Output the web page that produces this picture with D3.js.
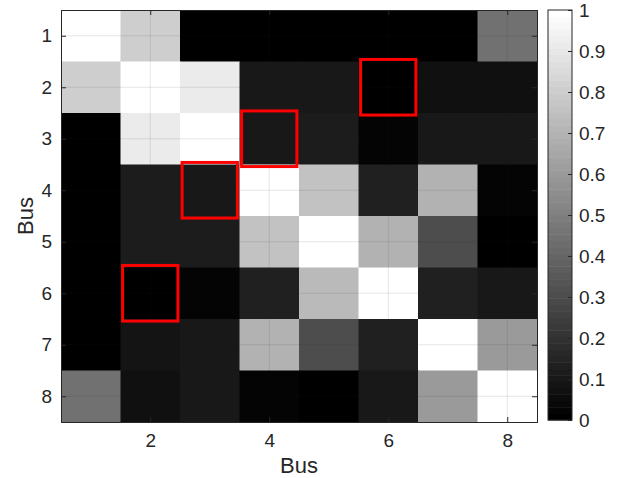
<!DOCTYPE html>
<html lang="en">
<head>
  <meta charset="UTF-8">
  <title>Bus correlation map</title>
  <script src="https://d3js.org/d3.v7.min.js"></script>
  <style>
    body { margin: 0; background: #fff; }
    text { font-family: "Liberation Sans", Arial, sans-serif; fill: #262626; }
  </style>
</head>
<body>
  <svg width="626" height="478"></svg>

  <script>
    // Data
    const buses = [1, 2, 3, 4, 5, 6, 7, 8];
    const xTicks = [2, 4, 6, 8];
    const cbTicks = [0, 0.1, 0.2, 0.3, 0.4, 0.5, 0.6, 0.7, 0.8, 0.9, 1];
    const matrix = [
      [1.00, 0.80, 0.00, 0.00, 0.00, 0.00, 0.00, 0.45],
      [0.80, 1.00, 0.91, 0.10, 0.10, 0.00, 0.07, 0.07],
      [0.00, 0.91, 1.00, 0.10, 0.11, 0.02, 0.10, 0.10],
      [0.00, 0.11, 0.10, 1.00, 0.75, 0.13, 0.69, 0.02],
      [0.00, 0.12, 0.12, 0.75, 1.00, 0.70, 0.30, 0.00],
      [0.00, 0.00, 0.02, 0.13, 0.72, 1.00, 0.13, 0.10],
      [0.00, 0.08, 0.10, 0.69, 0.30, 0.13, 1.00, 0.60],
      [0.45, 0.07, 0.10, 0.02, 0.00, 0.10, 0.60, 1.00]
    ];
    // highlighted cells [row, col]
    const marked = [[2, 6], [3, 4], [4, 3], [6, 2]];

    const svg = d3.select("svg");
    const pLeft = 61, pRight = 537, pTop = 10, pBottom = 422;

    const x = d3.scaleLinear().domain([0.5, 8.5]).range([pLeft, pRight]);
    const y = d3.scaleLinear().domain([0.5, 8.5]).range([pTop, pBottom]);

    // 64-level gray colormap like matlab
    const gray = v => {
      const k = Math.min(63, Math.floor(v * 64));
      const g = Math.round(k / 63 * 255);
      return `rgb(${g},${g},${g})`;
    };

    const cells = [];
    matrix.forEach((row, i) => row.forEach((v, j) => cells.push({ r: buses[i], c: buses[j], v })));

    svg.append("g").selectAll("rect")
      .data(cells)
      .join("rect")
      .attr("x", d => x(d.c - 0.5))
      .attr("y", d => y(d.r - 0.5))
      .attr("width", x(1.5) - x(0.5) + 0.5)
      .attr("height", y(1.5) - y(0.5) + 0.5)
      .attr("fill", d => gray(d.v));

    // grid
    const grid = svg.append("g").attr("stroke", "#262626").attr("stroke-opacity", 0.2).attr("stroke-width", 0.6);
    grid.selectAll(".gx").data(xTicks).join("line")
      .attr("x1", d => x(d)).attr("x2", d => x(d)).attr("y1", pTop).attr("y2", pBottom);
    grid.selectAll(".gy").data(buses).join("line")
      .attr("y1", d => y(d)).attr("y2", d => y(d)).attr("x1", pLeft).attr("x2", pRight);

    // red boxes
    svg.append("g").selectAll("rect")
      .data(marked)
      .join("rect")
      .attr("x", d => x(d[1] - 0.465))
      .attr("y", d => y(d[0] - 0.54))
      .attr("width", x(0.93) - x(0))
      .attr("height", y(1.08) - y(0))
      .attr("fill", "none")
      .attr("stroke", "#ff0000")
      .attr("stroke-width", 3);

    // axes
    const tickLen = 5;
    const xAxis = svg.append("g").attr("transform", `translate(0,${pBottom})`)
      .call(d3.axisBottom(x).tickValues(xTicks).tickSize(-tickLen).tickPadding(12));
    const xTop = svg.append("g").attr("transform", `translate(0,${pTop})`)
      .call(d3.axisTop(x).tickValues(xTicks).tickSize(-tickLen).tickFormat(""));
    const yAxis = svg.append("g").attr("transform", `translate(${pLeft},0)`)
      .call(d3.axisLeft(y).tickValues(buses).tickSize(-tickLen).tickPadding(9));
    const yRight = svg.append("g").attr("transform", `translate(${pRight},0)`)
      .call(d3.axisRight(y).tickValues(buses).tickSize(-tickLen).tickFormat(""));
    [xAxis, xTop, yAxis, yRight].forEach(a => {
      a.attr("font-size", 19).attr("font-family", null);
      a.select(".domain").attr("stroke", "#262626").attr("stroke-width", 1);
      a.selectAll(".tick line").attr("stroke", "#262626");
      a.selectAll("text").style("font-size", "19px").attr("fill", "#262626");
    });

    svg.append("text")
      .attr("x", (pLeft + pRight) / 2).attr("y", 473)
      .attr("text-anchor", "middle").style("font-size", "22px")
      .text("Bus");
    svg.append("text")
      .attr("transform", `translate(33,${(pTop + pBottom) / 2}) rotate(-90)`)
      .attr("text-anchor", "middle").style("font-size", "22px")
      .text("Bus");

    // colorbar
    const cbX = 548, cbW = 24;
    const cb = d3.scaleLinear().domain([0, 1]).range([420, 10]);
    const levels = d3.range(64);
    svg.append("g").selectAll("rect")
      .data(levels)
      .join("rect")
      .attr("x", cbX)
      .attr("y", d => cb((d + 1) / 64))
      .attr("width", cbW)
      .attr("height", cb(0) - cb(1 / 64) + 0.5)
      .attr("fill", d => gray(d / 64 + 0.001));
    svg.append("rect")
      .attr("x", cbX).attr("y", cb(1)).attr("width", cbW).attr("height", cb(0) - cb(1))
      .attr("fill", "none").attr("stroke", "#262626").attr("stroke-width", 1);
    const cbAxis = svg.append("g").attr("transform", `translate(${cbX + cbW},0)`)
      .call(d3.axisRight(cb).tickValues(cbTicks).tickSize(-4).tickPadding(7)
        .tickFormat(d => d3.format("~g")(d)));
    cbAxis.attr("font-size", 19).attr("font-family", null);
    cbAxis.select(".domain").remove();
    cbAxis.selectAll(".tick line").attr("stroke", "#262626");
    cbAxis.selectAll("text").style("font-size", "19px").attr("fill", "#262626");
  </script>
</body>
</html>
